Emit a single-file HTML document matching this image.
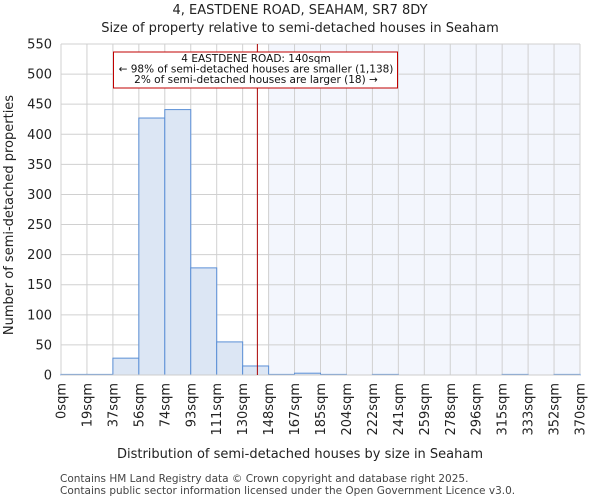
<!DOCTYPE html><html><head><style>body{margin:0;background:#fff;font-family:"DejaVu Sans","Liberation Sans",sans-serif}</style></head><body>
<svg id="c" width="600" height="500" xmlns="http://www.w3.org/2000/svg" font-family="DejaVu Sans, Liberation Sans, sans-serif"></svg>
<script>
const binLabels=["0sqm","19sqm","37sqm","56sqm","74sqm","93sqm","111sqm","130sqm","148sqm","167sqm","185sqm","204sqm","222sqm","241sqm","259sqm","278sqm","296sqm","315sqm","333sqm","352sqm","370sqm"];
const counts=[1,1,28,427,441,178,55,15,1,3,1,0,1,0,0,0,0,1,0,1];
const yTicks=[0,50,100,150,200,250,300,350,400,450,500,550];
const propertySize=140;
const xMax=370;
const NS="http://www.w3.org/2000/svg";
const svg=document.getElementById('c');
const L=61,R=580,T=44,B=375;
const x=v=>L+v/xMax*(R-L);
const y=v=>B-v/550*(B-T);
function el(t,a,txt){const e=document.createElementNS(NS,t);for(const k in a)e.setAttribute(k,a[k]);if(txt!==undefined)e.textContent=txt;svg.appendChild(e);return e;}
const bw=(R-L)/counts.length;
const shadeStart=L+Math.ceil(propertySize/xMax*counts.length)*bw;
let s=el('rect',{x:shadeStart,y:T,width:R-shadeStart,height:B-T,fill:'#f3f6fd'});


yTicks.forEach(v=>{let g=el('line',{x1:L,x2:R,y1:y(v),y2:y(v),stroke:'#d0d0d0'});


let t=el('text',{x:L-9,y:y(v)+4.5,'text-anchor':'end','font-size':13,fill:'#222'},v);

});
binLabels.forEach((lab,i)=>{const xx=L+i*bw;let g=el('line',{x1:xx,x2:xx,y1:T,y2:B,stroke:'#d0d0d0'});


let t=el('text',{transform:`translate(${xx+4.5},${B+8}) rotate(-90)`,'text-anchor':'end','font-size':13,fill:'#222'},lab);

});
counts.forEach((c,i)=>{const x0=L+i*bw;
if(c>0){let r=el('rect',{x:x0,y:y(c),width:bw,height:B-y(c),fill:'#dce6f4',stroke:'#5b8fd6','stroke-width':1});

}});
let ax=el('line',{x1:L,x2:R,y1:B,y2:B,stroke:'#ccc'});


let ml=el('line',{x1:x(propertySize),x2:x(propertySize),y1:T,y2:B,stroke:'#aa0000','stroke-width':1});


let box=el('rect',{x:113.5,y:52,width:284,height:36,fill:'#fff',stroke:'#c00000','stroke-width':1});


[["4 EASTDENE ROAD: 140sqm",62],["← 98% of semi-detached houses are smaller (1,138)",72.5],["2% of semi-detached houses are larger (18) →",83]].forEach(a=>{let t=el('text',{x:256,y:a[1],'text-anchor':'middle','font-size':10.5,fill:'#111'},a[0]);

});
let t1=el('text',{x:300,y:14,'text-anchor':'middle','font-size':13,fill:'#222'},"4, EASTDENE ROAD, SEAHAM, SR7 8DY");


let t2=el('text',{x:300,y:32,'text-anchor':'middle','font-size':13,fill:'#222'},"Size of property relative to semi-detached houses in Seaham");


let xl=el('text',{x:300,y:458,'text-anchor':'middle','font-size':13,fill:'#222'},"Distribution of semi-detached houses by size in Seaham");


let yl=el('text',{transform:'translate(13,215) rotate(-90)','text-anchor':'middle','font-size':13,fill:'#222'},"Number of semi-detached properties");


let f1=el('text',{x:60,y:482,'font-size':10.5,fill:'#444'},"Contains HM Land Registry data © Crown copyright and database right 2025.");


let f2=el('text',{x:60,y:494,'font-size':10.5,fill:'#444'},"Contains public sector information licensed under the Open Government Licence v3.0.");


</script></body></html>
